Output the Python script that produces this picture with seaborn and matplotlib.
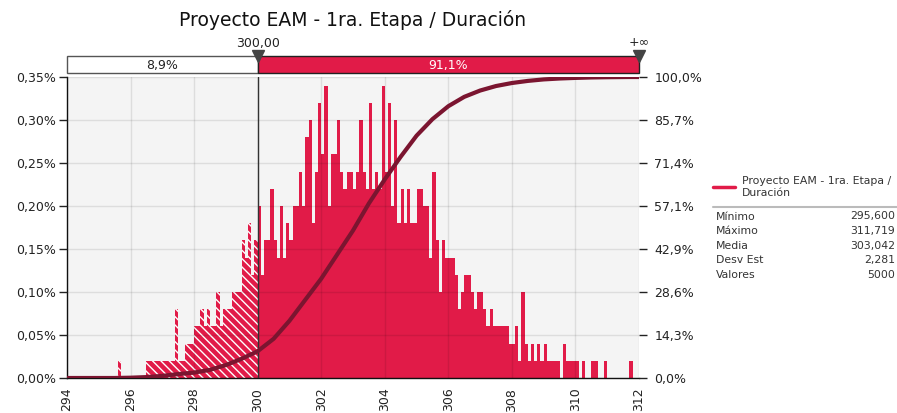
import numpy as np
import pandas as pd
import matplotlib
matplotlib.use("Agg")
import matplotlib.pyplot as plt
from matplotlib.lines import Line2D
from matplotlib.ticker import FuncFormatter
import seaborn as sns

title = "Proyecto EAM - 1ra. Etapa / Duración"
legend_name = "Proyecto EAM - 1ra. Etapa /\nDuración"

# histogram: 0.1 wide bins from 294.0, one count = 0.02 %
bin_start = 294.0
bin_width = 0.1
bin_counts = [
    0, 0, 0, 0, 0, 0, 0, 0, 0, 0,          # 294
    0, 0, 0, 0, 0, 0, 1, 0, 0, 0,          # 295
    0, 0, 0, 0, 0, 1, 1, 1, 1, 1,          # 296
    1, 1, 1, 1, 4, 1, 1, 2, 2, 2,          # 297
    3, 3, 4, 3, 4, 3, 3, 5, 3, 4,          # 298
    4, 4, 5, 5, 5, 8, 7, 9, 6, 8,          # 299
    10, 6, 8, 8, 11, 8, 7, 10, 7, 9,       # 300
    8, 10, 10, 12, 10, 14, 15, 9, 12, 16,  # 301
    13, 17, 10, 13, 13, 15, 12, 11, 12, 12,  # 302
    11, 12, 15, 12, 11, 16, 11, 12, 11, 17,  # 303
    12, 16, 10, 15, 9, 11, 9, 11, 9, 9,    # 304
    11, 11, 10, 10, 7, 12, 8, 5, 8, 7,     # 305
    7, 7, 6, 4, 5, 6, 6, 5, 4, 5,          # 306
    5, 4, 3, 4, 3, 3, 3, 3, 3, 2,          # 307
    2, 3, 1, 5, 2, 1, 2, 1, 2, 1,          # 308
    2, 1, 1, 1, 1, 0, 2, 1, 1, 1,          # 309
    1, 0, 1, 0, 0, 1, 1, 0, 0, 1,          # 310
    0, 0, 0, 0, 0, 0, 0, 1, 0, 0,          # 311
]
pct_per_count = 0.02

# cumulative curve (right axis, %)
cdf_x = [294, 295, 295.5, 296, 296.5, 297, 297.5, 298, 298.5, 299, 299.5,
         300, 300.5, 301, 301.5, 302, 302.5, 303, 303.5, 304, 304.5, 305,
         305.5, 306, 306.5, 307, 307.5, 308, 308.5, 309, 309.5, 310, 310.5,
         311, 311.7, 312]
cdf_pct = [0.0, 0.0, 0.0, 0.1, 0.3, 0.7, 1.3, 1.8, 2.7, 4.3, 6.4,
           8.9, 13.0, 19.0, 26.0, 33.0, 41.0, 49.0, 58.0, 66.0, 73.5, 80.5,
           86.0, 90.3, 93.4, 95.5, 97.0, 98.0, 98.7, 99.2, 99.5, 99.7, 99.85,
           99.93, 100.0, 100.0]

cut_value = 300.0
below_label = "8,9%"
above_label = "91,1%"
cut_label = "300,00"
end_label = "+∞"

stat_names = ["Mínimo", "Máximo", "Media", "Desv Est", "Valores"]
stat_values = ["295,600", "311,719", "303,042", "2,281", "5000"]

red = "#E11B48"
dark_red = "#7B1530"
text_col = "#222222"

sns.set_style("white")
plt.rcParams["font.family"] = ["DejaVu Sans"]
plt.rcParams["hatch.linewidth"] = 1.0

W, H = 897, 413
fig = plt.figure(figsize=(W / 100, H / 100), dpi=100)


def fx(px):
    return px / W


def fy(py):
    return 1 - py / H


ax = fig.add_axes([fx(67), fy(378), fx(639) - fx(67), fy(77) - fy(378)])
ax.set_facecolor("#F4F4F4")

counts = np.array(bin_counts, dtype=float)
edges = np.round(bin_start + bin_width * np.arange(len(counts) + 1), 6)
centers = edges[:-1] + bin_width / 2
df = pd.DataFrame({"x": centers, "pct": counts * pct_per_count})
left = df[df["x"] < cut_value]
right = df[df["x"] >= cut_value]

sns.histplot(data=left, x="x", weights="pct", bins=list(edges[edges <= cut_value]),
             element="step", fill=True, color=red, alpha=1,
             edgecolor="white", linewidth=0, hatch="\\\\\\\\", ax=ax)
sns.histplot(data=right, x="x", weights="pct", bins=list(edges[edges >= cut_value]),
             element="step", fill=True, color=red, alpha=1,
             edgecolor=red, linewidth=0, ax=ax)

ax.set_xlim(294, 312)
ax.set_ylim(0, 0.35)
ax.set_xticks(np.arange(294, 313, 2))
ax.set_yticks(np.arange(0, 0.351, 0.05))
ax.yaxis.set_major_formatter(FuncFormatter(lambda v, p: f"{v:.2f}%".replace(".", ",")))
ax.tick_params(axis="x", labelrotation=90, labelsize=9, colors=text_col,
               length=5, width=1, direction="out", pad=2)
ax.tick_params(axis="y", labelsize=9, colors=text_col, length=6, width=1,
               direction="out", pad=2)
ax.grid(True, color="black", alpha=0.09, lw=1)
ax.set_axisbelow(False)
ax.set_xlabel("")
ax.set_ylabel("")
for s in ["top", "right"]:
    ax.spines[s].set_visible(False)
for s in ["left", "bottom"]:
    ax.spines[s].set_color("#111111")
    ax.spines[s].set_linewidth(1)
ax.axvline(cut_value, color="#333333", lw=1, zorder=6)

ax2 = ax.twinx()
sns.lineplot(x=cdf_x, y=cdf_pct, ax=ax2, color=dark_red, lw=3)
ax2.set_ylim(0, 100)
ax2.set_yticks(np.arange(8) * 100 / 7)
ax2.yaxis.set_major_formatter(FuncFormatter(lambda v, p: f"{v:.1f}%".replace(".", ",")))
ax2.tick_params(axis="y", labelsize=9, colors=text_col, length=6, width=1, pad=5)
for s in ax2.spines.values():
    s.set_visible(False)
ax2.set_xlim(294, 312)

# delimiter bar above the plot
bar_ax = fig.add_axes([fx(67), fy(73), fx(639) - fx(67), fy(56) - fy(73)])
bar_ax.set_xlim(294, 312)
bar_ax.set_ylim(0, 1)
bar_ax.axis("off")
bar_ax.barh(0.5, cut_value - 294, left=294, height=1, color="white",
            edgecolor="#555555", lw=1, clip_on=False)
bar_ax.barh(0.5, 312 - cut_value, left=cut_value, height=1, color=red,
            edgecolor="#222222", lw=1, clip_on=False)
bar_ax.text((294 + cut_value) / 2, 0.45, below_label, ha="center", va="center",
            fontsize=9, color=text_col)
bar_ax.text((cut_value + 312) / 2, 0.45, above_label, ha="center", va="center",
            fontsize=9, color="white")
bar_ax.plot([cut_value, 312], [1, 1], ls="none", marker="v", ms=8,
            color="#444444", clip_on=False, zorder=5)

fig.text(fx(258), fy(43), cut_label, ha="center", va="center", fontsize=9, color=text_col)
fig.text(fx(639), fy(43), end_label, ha="center", va="center", fontsize=9, color=text_col)
fig.text(fx(353), fy(20), title, ha="center", va="center", fontsize=13.5, color="#111111")

# statistics panel
fig.add_artist(Line2D([fx(713), fx(735)], [fy(187), fy(187)], color=red, lw=2.5))
fig.text(fx(742), fy(187), legend_name, ha="left", va="center", fontsize=7.8,
         color="#333333", linespacing=1.25)
fig.add_artist(Line2D([fx(713), fx(897)], [fy(207), fy(207)], color="#BBBBBB", lw=1.5))
for i, (name, val) in enumerate(zip(stat_names, stat_values)):
    yy = fy(216.5 + i * 14.6)
    fig.text(fx(716), yy, name, ha="left", va="center", fontsize=7.8, color="#333333")
    fig.text(fx(895), yy, val, ha="right", va="center", fontsize=7.8, color="#333333")

fig.savefig("out.png", dpi=100)
